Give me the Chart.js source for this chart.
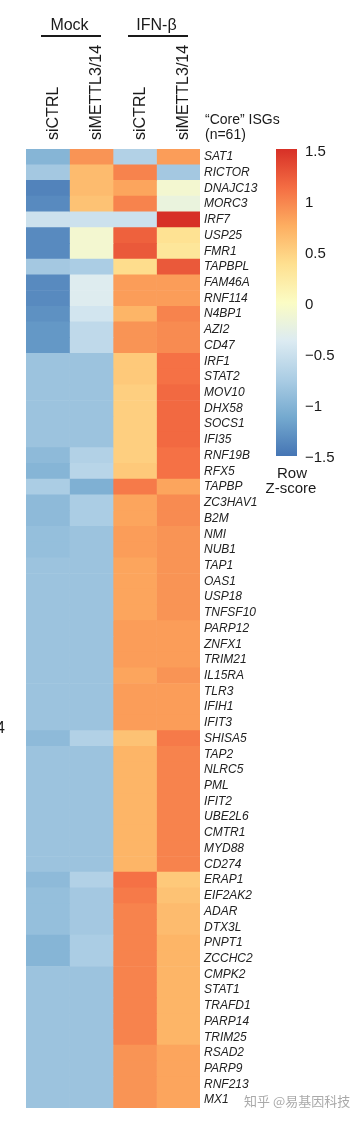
<!DOCTYPE html>
<html>
<head>
<meta charset="utf-8">
<script src="https://cdn.jsdelivr.net/npm/chart.js@4.4.1/dist/chart.umd.min.js"></script>
<style>
  html, body { margin: 0; padding: 0; background: #ffffff; }
  #wrap { width: 364px; height: 1123px; position: relative; }
</style>
</head>
<body>
<div id="wrap"><canvas id="c" width="364" height="1123"></canvas></div>
<script>
// ---- data ----
const genes = ['SAT1','RICTOR','DNAJC13','MORC3','IRF7','USP25','FMR1','TAPBPL','FAM46A','RNF114',
  'N4BP1','AZI2','CD47','IRF1','STAT2','MOV10','DHX58','SOCS1','IFI35','RNF19B',
  'RFX5','TAPBP','ZC3HAV1','B2M','NMI','NUB1','TAP1','OAS1','USP18','TNFSF10',
  'PARP12','ZNFX1','TRIM21','IL15RA','TLR3','IFIH1','IFIT3','SHISA5','TAP2','NLRC5',
  'PML','IFIT2','UBE2L6','CMTR1','MYD88','CD274','ERAP1','EIF2AK2','ADAR','DTX3L',
  'PNPT1','ZCCHC2','CMPK2','STAT1','TRAFD1','PARP14','TRIM25','RSAD2','PARP9','RNF213','MX1'];
const columns = ['siCTRL','siMETTL3/14','siCTRL','siMETTL3/14'];
const groups = ['Mock','IFN-\u03b2'];
const groupCols = [[0,1],[2,3]];

const mockCTRL = [-1.0,-0.8,-1.4,-1.35,-0.5,-1.35,-1.35,-0.8,-1.35,-1.35,
  -1.3,-1.25,-1.25,-0.85,-0.85,-0.85,-0.85,-0.85,-0.85,-0.95,
  -1.0,-0.75,-0.95,-0.95,-0.9,-0.9,-0.85,-0.85,-0.85,-0.85,
  -0.85,-0.85,-0.85,-0.85,-0.85,-0.85,-0.85,-0.95,-0.85,-0.85,
  -0.85,-0.85,-0.85,-0.85,-0.85,-0.85,-0.95,-0.9,-0.9,-0.9,
  -1.0,-1.0,-0.85,-0.85,-0.85,-0.85,-0.85,-0.85,-0.85,-0.85,-0.85];
const mockKD = [0.9,0.65,0.65,0.6,-0.5,-0.1,-0.1,-0.75,-0.35,-0.35,
  -0.45,-0.6,-0.6,-0.85,-0.85,-0.85,-0.85,-0.85,-0.85,-0.7,
  -0.65,-1.05,-0.75,-0.75,-0.85,-0.85,-0.85,-0.85,-0.85,-0.85,
  -0.85,-0.85,-0.85,-0.85,-0.85,-0.85,-0.85,-0.7,-0.85,-0.85,
  -0.85,-0.85,-0.85,-0.85,-0.85,-0.85,-0.7,-0.8,-0.8,-0.8,
  -0.75,-0.75,-0.85,-0.85,-0.85,-0.85,-0.85,-0.85,-0.85,-0.85,-0.85];
const ifnCTRL = [-0.7,1.0,0.8,1.0,-0.5,1.2,1.25,0.4,0.85,0.85,
  0.7,0.9,0.9,0.55,0.55,0.5,0.5,0.5,0.5,0.5,
  0.55,1.05,0.8,0.8,0.85,0.85,0.8,0.8,0.8,0.8,
  0.85,0.85,0.85,0.8,0.85,0.85,0.85,0.6,0.7,0.7,
  0.7,0.7,0.7,0.7,0.7,0.7,1.1,1.05,1.0,1.0,
  1.0,1.0,1.0,1.0,1.0,1.0,1.0,0.9,0.9,0.9,0.9];
const ifnKD = [0.85,-0.8,-0.1,-0.2,1.5,0.35,0.3,1.25,0.85,0.85,
  1.0,0.95,0.95,1.1,1.1,1.15,1.15,1.15,1.15,1.1,
  1.1,0.8,0.95,0.95,0.9,0.9,0.9,0.9,0.9,0.9,
  0.85,0.85,0.85,0.9,0.85,0.85,0.85,1.05,1.0,1.0,
  1.0,1.0,1.0,1.0,1.0,1.0,0.55,0.6,0.65,0.65,
  0.7,0.7,0.7,0.7,0.7,0.7,0.7,0.8,0.8,0.8,0.8];
const seriesValues = [mockCTRL, mockKD, ifnCTRL, ifnKD];

const cbTicks = [1.5, 1, 0.5, 0, -0.5, -1, -1.5];
const cbMin = -1.5, cbMax = 1.5;

// ---- colour map (RdYlBu-like) ----
const stops = ['#4575b4','#74a9cf','#abcde4','#dcebf2','#fbfcc4','#fee090','#fdae61','#f46d43','#d73027'];
function hex2rgb(h){ return [parseInt(h.substr(1,2),16),parseInt(h.substr(3,2),16),parseInt(h.substr(5,2),16)]; }
const stopRGB = stops.map(hex2rgb);
function zColor(z){
  let t = (z - cbMin) / (cbMax - cbMin);
  t = Math.max(0, Math.min(1, t));
  const p = t * (stopRGB.length - 1);
  const i = Math.min(Math.floor(p), stopRGB.length - 2);
  const f = p - i;
  const a = stopRGB[i], b = stopRGB[i+1];
  return 'rgb(' + a.map((v,k)=>Math.round(v + (b[k]-v)*f)).join(',') + ')';
}

const datasets = seriesValues.map((vals, ci) => ({
  label: columns[ci],
  data: vals.map(() => 1),
  backgroundColor: vals.map(zColor),
  borderColor: vals.map(zColor),
  borderWidth: 0,
  barPercentage: 1.0,
  categoryPercentage: 1.0,
  xAxisID: 'x',
  yAxisID: 'y'
}));

const FONT = '"Liberation Sans", Arial, sans-serif';

const extras = {
  id: 'extras',
  afterDraw(chart) {
    const ctx = chart.ctx;
    const top = chart.scales.xTop;
    const area = chart.chartArea;
    ctx.save();
    // group headers
    ctx.fillStyle = '#1a1a1a';
    ctx.strokeStyle = '#1a1a1a';
    ctx.textAlign = 'center';
    ctx.textBaseline = 'alphabetic';
    ctx.font = '16px ' + FONT;
    const half = (area.right - area.left) / 4 / 2;
    groups.forEach((g, gi) => {
      const a = top.getPixelForTick(groupCols[gi][0]);
      const b = top.getPixelForTick(groupCols[gi][1]);
      const cx = (a + b) / 2;
      ctx.fillText(g, cx, 30);
      ctx.lineWidth = 2.2;
      ctx.beginPath();
      ctx.moveTo(a - half + 15, 36);
      ctx.lineTo(b + half - 12, 36);
      ctx.stroke();
    });
    // Core ISGs
    ctx.textAlign = 'left';
    ctx.font = '14px ' + FONT;
    ctx.fillStyle = '#1a1a1a';
    ctx.fillText('\u201cCore\u201d ISGs', 205, 124);
    ctx.fillText('(n=61)', 205, 139);
    // colour bar
    const bx = 276, bw = 21, by0 = 149, by1 = 456;
    const grad = ctx.createLinearGradient(0, by1, 0, by0);
    stops.forEach((s, i) => grad.addColorStop(i / (stops.length - 1), s));
    ctx.fillStyle = grad;
    ctx.fillRect(bx, by0, bw, by1 - by0);
    ctx.font = '15px ' + FONT;
    ctx.fillStyle = '#1a1a1a';
    ctx.textBaseline = 'middle';
    cbTicks.forEach(v => {
      const y = by1 + 2 - (v - cbMin) / (cbMax - cbMin) * (by1 - by0 - 1);
      const s = v < 0 ? '\u2212' + String(Math.abs(v)) : String(v);
      ctx.fillText(s, 305, y);
    });
    ctx.textAlign = 'center';
    ctx.textBaseline = 'alphabetic';
    ctx.font = '15px ' + FONT;
    ctx.fillText('Row', 292, 478);
    ctx.fillText('Z-score', 291, 493);
    // cropped stray glyph at the left edge
    ctx.textAlign = 'left';
    ctx.font = '16px ' + FONT;
    ctx.fillText('4', -4, 733);
    // watermark
    ctx.font = '13px "Noto Sans CJK SC", sans-serif';
    ctx.fillStyle = 'rgba(140,140,140,0.75)';
    ctx.fillText('\u77e5\u4e4e @\u6613\u57fa\u56e0\u79d1\u6280', 244, 1106);
    ctx.restore();
  }
};

new Chart(document.getElementById('c'), {
  type: 'bar',
  data: { labels: genes, datasets },
  options: {
    indexAxis: 'y',
    responsive: false,
    animation: false,
    devicePixelRatio: 1,
    layout: { padding: { left: 26, top: 0, right: 0, bottom: 15 } },
    plugins: { legend: { display: false }, tooltip: { enabled: false }, title: { display: false } },
    scales: {
      x: { type: 'linear', stacked: true, min: 0, max: 4, display: false },
      xTop: {
        type: 'category', axis: 'x', position: 'top', labels: columns, offset: true,
        grid: { display: false, drawTicks: false }, border: { display: false },
        ticks: { minRotation: 90, maxRotation: 90, autoSkip: false, padding: 9, labelOffset: 25,
          color: '#1a1a1a', font: { family: FONT, size: 16 } },
        afterFit(scale) { scale.height = 149; }
      },
      y: {
        type: 'category', stacked: true, position: 'right', offset: true,
        grid: { display: false, drawTicks: false }, border: { display: false },
        ticks: { autoSkip: false, padding: 4, color: '#222', font: { family: FONT, size: 12, style: 'italic' } },
        afterFit(scale) { scale.width = 164; }
      }
    }
  },
  plugins: [extras]
});
</script>
</body>
</html>
